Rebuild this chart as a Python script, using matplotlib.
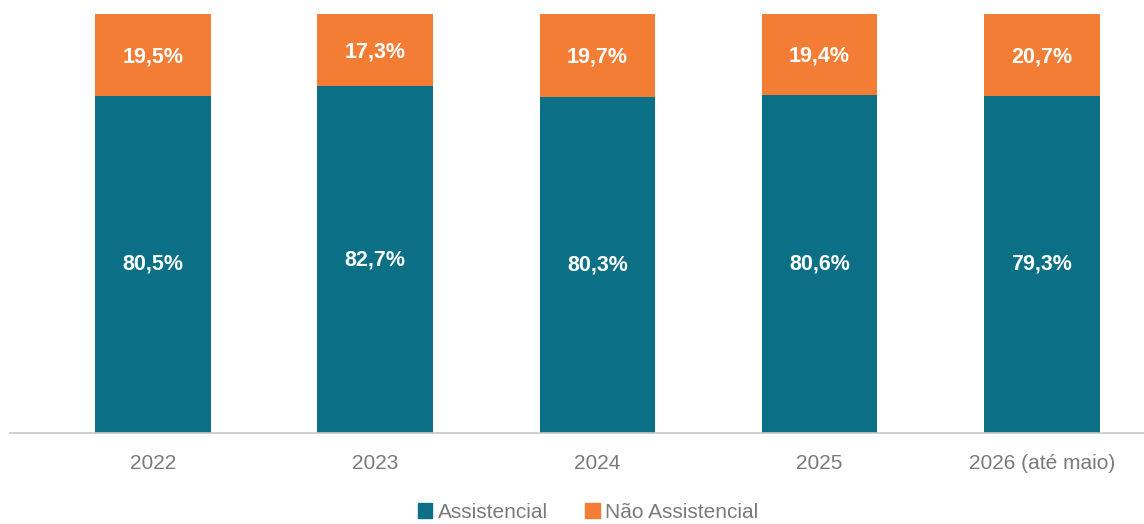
import matplotlib
matplotlib.use("Agg")
import matplotlib.pyplot as plt
from matplotlib import font_manager
from matplotlib.patches import Patch

# ---- data ----
anos = ["2022", "2023", "2024", "2025", "2026 (até maio)"]
# bar heights as drawn in the picture (2026 bar is drawn like ~80.5%)
assistencial = [80.5, 82.7, 80.3, 80.6, 80.5]
nao_assistencial = [19.5, 17.3, 19.7, 19.4, 19.5]
# printed labels
rot_assistencial = ["80,5%", "82,7%", "80,3%", "80,6%", "79,3%"]
rot_nao_assistencial = ["19,5%", "17,3%", "19,7%", "19,4%", "20,7%"]

TEAL = "#0B6F86"
ORANGE = "#F47D36"
GRAY = "#7a7a7a"

names = {f.name for f in font_manager.fontManager.ttflist}
fam = "Liberation Sans Narrow" if "Liberation Sans Narrow" in names else "Liberation Sans"
plt.rcParams["font.family"] = [fam, "DejaVu Sans"]

fig = plt.figure(figsize=(11.44, 5.24), dpi=100)
ax = fig.add_axes([10 / 1144, 1 - 433 / 524, 1134 / 1144, 433 / 524])

x = list(range(len(anos)))
w = 0.52
ax.bar(x, assistencial, w, color=TEAL, label="Assistencial")
ax.bar(x, nao_assistencial, w, bottom=assistencial, color=ORANGE, label="Não Assistencial")

for i in x:
    a = assistencial[i]
    n = nao_assistencial[i]
    ax.text(i, a / 2, rot_assistencial[i], ha="center", va="center",
            color="white", fontsize=15.5, fontweight="bold")
    ax.text(i, a + n / 2 - 0.4, rot_nao_assistencial[i], ha="center", va="center",
            color="white", fontsize=15.5, fontweight="bold")

ax.set_xlim(-0.644, 4.46)
ax.set_ylim(0, 100 * 433 / 419)
ax.set_xticks(x)
ax.set_xticklabels(anos, color=GRAY, fontsize=15)
ax.tick_params(axis="x", length=0, pad=15)
ax.set_yticks([])
for s in ["top", "right", "left"]:
    ax.spines[s].set_visible(False)
ax.spines["bottom"].set_color("#c8c8c8")
ax.spines["bottom"].set_linewidth(1.2)

handles = [Patch(color=TEAL, label="Assistencial"),
           Patch(color=ORANGE, label="Não Assistencial")]
leg = fig.legend(handles=handles, loc="upper center", ncol=2,
                 bbox_to_anchor=(588 / 1144, 1 - 484 / 524), frameon=False,
                 fontsize=15, handlelength=0.7, handleheight=0.7,
                 handletextpad=0.25, columnspacing=1.8)
for t in leg.get_texts():
    t.set_color(GRAY)

fig.savefig("out.png", dpi=100)
